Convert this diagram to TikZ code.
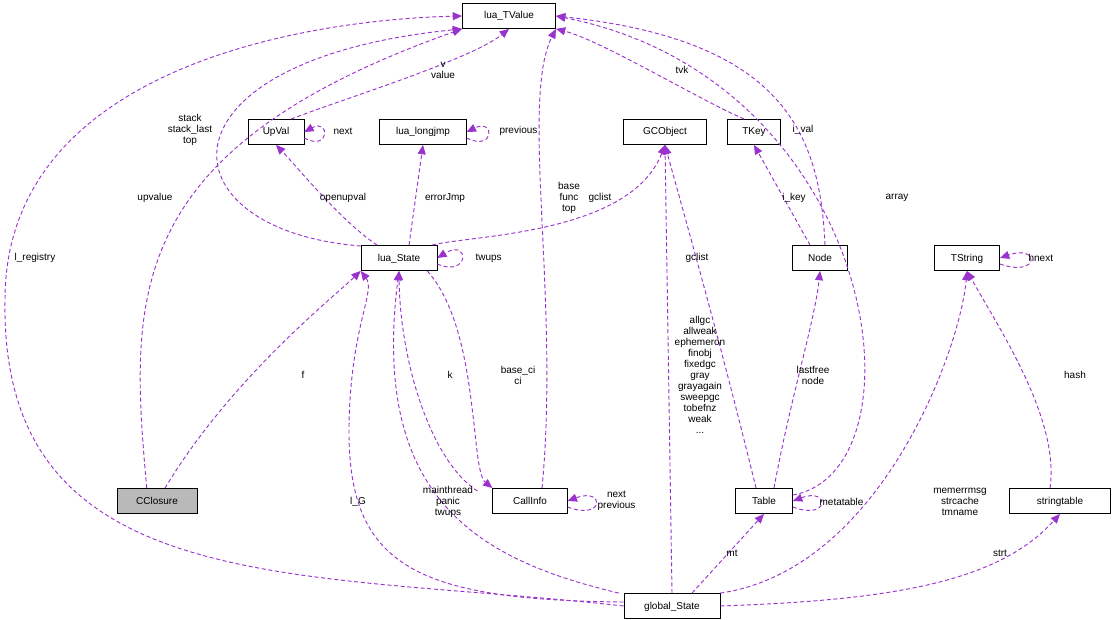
\documentclass[tikz,border=0pt]{standalone}
\usepackage{fontspec}
\setmainfont{Liberation Sans}
\usetikzlibrary{arrows.meta}
\definecolor{edge}{HTML}{9A32CD}
\begin{document}
\begin{tikzpicture}[x=0.75pt,y=-0.75pt,font=\fontsize{7.5}{8.3}\selectfont,
  box/.style={draw,fill=white,inner sep=0pt,minimum height=19pt,text height=6pt,text depth=1.5pt},
  lnk/.style={draw=edge,densely dashed,line width=0.7pt,-{Triangle[length=7pt,width=6pt,fill=edge]}},
  lbl/.style={align=center,inner sep=1pt}]
\useasboundingbox (0,0) rectangle (1119,620);
\node[box,minimum width=70pt] (tv) at (509,16) {lua\_TValue};
\node[box,minimum width=42pt] (uv) at (276,132) {UpVal};
\node[box,minimum width=65pt] (lj) at (423,132) {lua\_longjmp};
\node[box,minimum width=62pt] (gc) at (665,132) {GCObject};
\node[box,minimum width=40pt] (tk) at (754,132) {TKey};
\node[box,minimum width=57pt] (ls) at (399,258) {lua\_State};
\node[box,minimum width=41pt] (nd) at (820,258) {Node};
\node[box,minimum width=49pt] (ts) at (967,258) {TString};
\node[box,minimum width=60pt,fill=gray!55] (cc) at (157,501) {CClosure};
\node[box,minimum width=56pt] (ci) at (530,501) {CallInfo};
\node[box,minimum width=43pt] (tb) at (764,501) {Table};
\node[box,minimum width=76pt] (st) at (1060,501) {stringtable};
\node[box,minimum width=72pt] (gs) at (672,606) {global\_State};

\draw[lnk] (cc.north west) ++(30,0) .. controls (130,300) and (120,150) .. (tv.south west);
\draw[lnk] (cc.north) ++(8,0) .. controls (230,380) and (330,300) .. (ls.south west);
\draw[lnk] (ls.west) ++(0,-12) .. controls (160,230) and (150,60) .. (tv.south west);
\draw[lnk] (uv.north) ++(15,0) .. controls (340,100) and (470,60) .. (tv.south);
\draw[lnk] (uv.east) ++(0,6) .. controls (330,152) and (330,118) .. (uv.east);
\draw[lnk] (ls.north) ++(-22,0) .. controls (340,220) and (300,170) .. (uv.south);
\draw[lnk] (ls.north) ++(10,0) -- (lj.south);
\draw[lnk] (lj.east) ++(0,6) .. controls (495,152) and (495,118) .. (lj.east);
\draw[lnk] (ls.north east) ++(-5,0) .. controls (470,235) and (630,235) .. (gc.south);
\draw[lnk] (ls.east) ++(0,6) .. controls (470,278) and (470,238) .. (ls.east);
\draw[lnk] (ci.north) ++(12,0) .. controls (560,300) and (520,100) .. (tv.south east);
\draw[lnk] (ci.north west) ++(-15,3) .. controls (430,460) and (400,360) .. (ls.south);
\draw[lnk] (ls.south east) ++(-10,0) .. controls (480,330) and (470,470) .. (ci.north west);
\draw[lnk] (ci.east) ++(0,6) .. controls (605,521) and (605,487) .. (ci.east);
\draw[lnk] (tk.north) ++(-10,0) .. controls (700,100) and (600,40) .. (tv.south east);
\draw[lnk] (nd.north) ++(5,0) .. controls (820,130) and (780,40) .. (tv.east);
\draw[lnk] (nd.north) ++(-10,0) -- (tk.south);
\draw[lnk] (tb.east) ++(0,-6) .. controls (930,470) and (880,80) .. (tv.east);
\draw[lnk] (tb.north) ++(-8,0) .. controls (720,340) and (680,200) .. (gc.south);
\draw[lnk] (tb.north) ++(10,0) .. controls (790,400) and (815,320) .. (nd.south);
\draw[lnk] (tb.east) ++(0,6) .. controls (830,521) and (830,487) .. (tb.east);
\draw[lnk] (gs.north) -- (gc.south);
\draw[lnk] (gs.west) .. controls (300,570) and (0,600) .. (5,300) .. controls (5,70) and (300,20) .. (tv.west);
\draw[lnk] (gs.west) ++(0,-4) .. controls (400,600) and (340,560) .. (350,400) .. controls (355,320) and (375,290) .. (ls.south west);
\draw[lnk] (gs.north west) ++(-5,0) .. controls (480,560) and (370,500) .. (ls.south);
\draw[lnk] (gs.north) ++(20,0) -- (tb.south);
\draw[lnk] (gs.north east) .. controls (880,570) and (960,350) .. (ts.south);
\draw[lnk] (gs.east) .. controls (900,600) and (1000,580) .. (st.south);
\draw[lnk] (ts.east) ++(0,6) .. controls (1040,278) and (1040,244) .. (ts.east);
\draw[lnk] (st.north) ++(-10,0) .. controls (1060,420) and (1000,330) .. (ts.south);

\node[lbl] (a1) at (155,198) {upvalue};
\node[lbl] (a2) at (303,375) {f};
\node[lbl] (a3) at (190,130) {stack\\stack\_last\\top};
\node[lbl] (a4) at (443,70) {v\\value};
\node[lbl,anchor=west] (a5) at (332,131) {next};
\node[lbl] (a6) at (343,198) {openupval};
\node[lbl] (a7) at (445,198) {errorJmp};
\node[lbl,anchor=west] (a8) at (498,131) {previous};
\node[lbl] (a9) at (600,198) {gclist};
\node[lbl,anchor=west] (a10) at (474,258) {twups};
\node[lbl] (a11) at (569,198) {base\\func\\top};
\node[lbl] (a12) at (450,375) {k};
\node[lbl] (a13) at (518,375) {base\_ci\\ci};
\node[lbl,anchor=west] (a14) at (596,501) {next\\previous};
\node[lbl] (a15) at (682,70) {tvk};
\node[lbl] (a16) at (803,130) {i\_val};
\node[lbl] (a17) at (794,198) {i\_key};
\node[lbl] (a18) at (897,198) {array};
\node[lbl] (a19) at (697,258) {gclist};
\node[lbl] (a20) at (813,375) {lastfree\\node};
\node[lbl,anchor=west] (a21) at (818,502) {metatable};
\node[lbl] (a22) at (700,375) {allgc\\allweak\\ephemeron\\finobj\\fixedgc\\gray\\grayagain\\sweepgc\\tobefnz\\weak\\...};
\node[lbl] (a23) at (35,258) {l\_registry};
\node[lbl] (a24) at (358,502) {l\_G};
\node[lbl] (a25) at (448,502) {mainthread\\panic\\twups};
\node[lbl] (a26) at (732,553) {mt};
\node[lbl] (a27) at (960,502) {memerrmsg\\strcache\\tmname};
\node[lbl] (a28) at (1000,553) {strt};
\node[lbl,anchor=west] (a29) at (1027,258) {hnext};
\node[lbl] (a30) at (1075,375) {hash};
\end{tikzpicture}
\end{document}
